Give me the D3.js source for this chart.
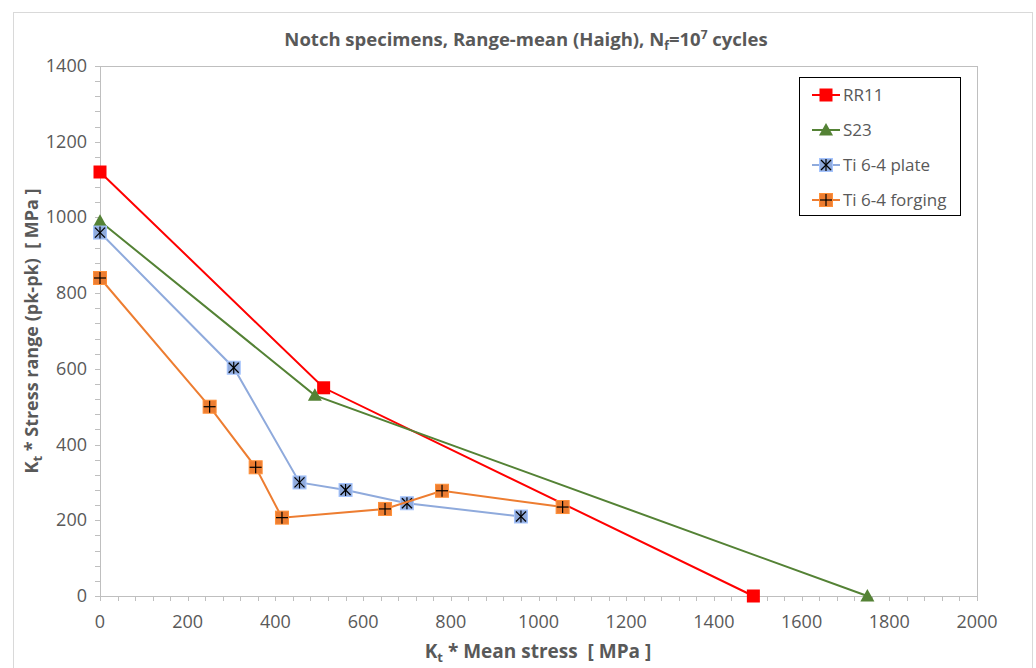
<!DOCTYPE html>
<html>
<head>
<meta charset="utf-8">
<script src="https://cdn.jsdelivr.net/npm/d3@7"></script>
<style>
  body { margin: 0; background: #fff; }
  text { font-family: "Open Sans", "Liberation Sans", sans-serif; fill: #595959; }
</style>
</head>
<body>
<script>
// data
const rr11 = [[0, 1120], [510, 550], [1490, 0]];
const s23 = [[0, 990], [490, 530], [1750, 0]];
const tiPlate = [[0, 960], [305, 603], [455, 300], [560, 280], [700, 245], [960, 210]];
const tiForging = [[0, 840], [250, 500], [355, 340], [415, 207], [650, 230], [780, 278], [1055, 235]];

const seriesNames = ["RR11", "S23", "Ti 6-4 plate", "Ti 6-4 forging"];
const xTicks = [0, 200, 400, 600, 800, 1000, 1200, 1400, 1600, 1800, 2000];
const yTicks = [0, 200, 400, 600, 800, 1000, 1200, 1400];

const W = 1036, H = 668;
const pLeft = 100, pRight = 977, pTop = 66, pBottom = 596;

const svg = d3.select("body").append("svg").attr("width", W).attr("height", H);

// outer chart frame
svg.append("rect").attr("x", 13.5).attr("y", 12.5).attr("width", 1019).attr("height", 670)
  .attr("fill", "none").attr("stroke", "#d9d9d9");

const x = d3.scaleLinear().domain([0, 2000]).range([pLeft, pRight]);
const y = d3.scaleLinear().domain([0, 1400]).range([pBottom, pTop]);

const axisColor = "#bfbfbf";

// plot area border
svg.append("rect").attr("x", pLeft + 0.5).attr("y", pTop + 0.5)
  .attr("width", pRight - pLeft).attr("height", pBottom - pTop)
  .attr("fill", "none").attr("stroke", axisColor);

// minor ticks every 40
const xMinor = d3.range(0, 2001, 40);
const yMinor = d3.range(0, 1401, 40);
svg.append("g").selectAll("line").data(xMinor).join("line")
  .attr("x1", d => Math.round(x(d)) + 0.5).attr("x2", d => Math.round(x(d)) + 0.5)
  .attr("y1", pBottom).attr("y2", pBottom + 5).attr("stroke", axisColor);
svg.append("g").selectAll("line").data(yMinor).join("line")
  .attr("y1", d => Math.round(y(d)) + 0.5).attr("y2", d => Math.round(y(d)) + 0.5)
  .attr("x1", pLeft - 5).attr("x2", pLeft).attr("stroke", axisColor);

// tick labels
svg.append("g").selectAll("text").data(xTicks).join("text")
  .attr("x", d => x(d)).attr("y", pBottom + 32)
  .attr("text-anchor", "middle").style("font-size", "18px").text(d => d);
svg.append("g").selectAll("text").data(yTicks).join("text")
  .attr("x", pLeft - 13).attr("y", d => y(d) + 6)
  .attr("text-anchor", "end").style("font-size", "18px").text(d => d);

// title
const title = svg.append("text").attr("x", 526).attr("y", 46).attr("text-anchor", "middle")
  .style("font-size", "18.5px").style("font-weight", "bold");
title.append("tspan").text("Notch specimens, Range-mean (Haigh), N");
title.append("tspan").attr("dy", 4).style("font-size", "12px").text("f");
title.append("tspan").attr("dy", -4).text("=10");
title.append("tspan").attr("dy", -7).style("font-size", "12px").text("7");
title.append("tspan").attr("dy", 7).text(" cycles");

// x label
const xl = svg.append("text").attr("x", 538).attr("y", 658).attr("text-anchor", "middle")
  .style("font-size", "19px").style("font-weight", "bold");
xl.append("tspan").text("K");
xl.append("tspan").attr("dy", 4).style("font-size", "13px").text("t");
xl.append("tspan").attr("dy", -4).attr("xml:space", "preserve").text(" * Mean stress  [ MPa ]");

// y label
const yl = svg.append("text").attr("transform", "translate(38,331) rotate(-90)")
  .attr("text-anchor", "middle").style("font-size", "18px").style("font-weight", "bold");
yl.append("tspan").text("K");
yl.append("tspan").attr("dy", 4).style("font-size", "13px").text("t");
yl.append("tspan").attr("dy", -4).attr("xml:space", "preserve").text(" * Stress range (pk-pk)  [ MPa ]");

const line = d3.line().x(d => x(d[0])).y(d => y(d[1]));

const styles = [
  { data: rr11, color: "#ff0000", marker: "square" },
  { data: s23, color: "#548235", marker: "triangle" },
  { data: tiPlate, color: "#8faadc", marker: "star" },
  { data: tiForging, color: "#ed7d31", marker: "plus" }
];

function drawMarker(g, kind, color) {
  if (kind === "square") {
    g.append("rect").attr("x", -6.5).attr("y", -6.5).attr("width", 13).attr("height", 13).attr("fill", color);
  } else if (kind === "triangle") {
    g.append("path").attr("d", "M0,-7L7,5.5L-7,5.5Z").attr("fill", color);
  } else {
    g.append("rect").attr("x", -6.5).attr("y", -6.5).attr("width", 13).attr("height", 13)
      .attr("fill", color).attr("stroke", d3.color(color).brighter(0.4)).attr("stroke-width", 1);
    g.append("line").attr("x1", 0).attr("x2", 0).attr("y1", -6).attr("y2", 6).attr("stroke", "#000").attr("stroke-width", 1.2);
    if (kind === "plus") {
      g.append("line").attr("x1", -6).attr("x2", 6).attr("y1", 0).attr("y2", 0).attr("stroke", "#000").attr("stroke-width", 1.2);
    } else {
      g.append("line").attr("x1", -5).attr("x2", 5).attr("y1", -5).attr("y2", 5).attr("stroke", "#000").attr("stroke-width", 1.2);
      g.append("line").attr("x1", -5).attr("x2", 5).attr("y1", 5).attr("y2", -5).attr("stroke", "#000").attr("stroke-width", 1.2);
    }
  }
}

styles.forEach(s => {
  svg.append("path").datum(s.data).attr("d", line)
    .attr("fill", "none").attr("stroke", s.color).attr("stroke-width", 2);
  s.data.forEach(p => {
    const g = svg.append("g").attr("transform", `translate(${x(p[0])},${y(p[1])})`);
    drawMarker(g, s.marker, s.color);
  });
});

// legend
const lg = svg.append("g");
lg.append("rect").attr("x", 799.5).attr("y", 77.5).attr("width", 161).attr("height", 138)
  .attr("fill", "#fff").attr("stroke", "#000");
styles.forEach((s, i) => {
  const cy = 95 + i * 35;
  lg.append("line").attr("x1", 812).attr("x2", 840).attr("y1", cy).attr("y2", cy)
    .attr("stroke", s.color).attr("stroke-width", 2);
  const g = lg.append("g").attr("transform", `translate(826,${cy})`);
  drawMarker(g, s.marker, s.color);
  lg.append("text").attr("x", 843).attr("y", cy + 6).style("font-size", "17px").text(seriesNames[i]);
});
</script>
</body>
</html>
